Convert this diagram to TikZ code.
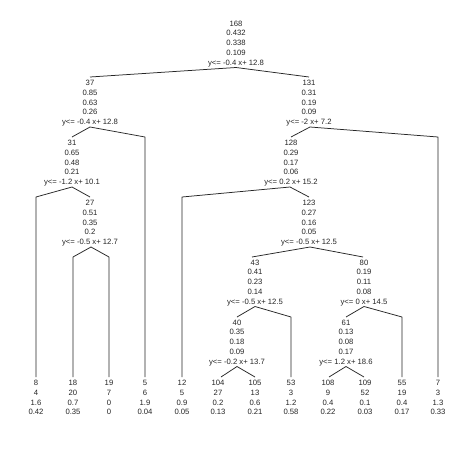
\documentclass[tikz,border=0pt]{standalone}
\usepackage{fontspec}
\setmainfont{Liberation Sans}
\begin{document}
\begin{tikzpicture}[x=1pt,y=-1pt,
  lbl/.style={font=\fontsize{7.7}{9.7}\selectfont, align=center, anchor=north, inner sep=0pt, text=black!85},
  edge/.style={draw=black!85, line width=0.75pt, line join=round}]
\useasboundingbox[fill=white] (0,0) rectangle (474,474);
% internal nodes
\node[lbl] (n168) at (236,20.7) {168\\0.432\\0.338\\0.109\\y<= -0.4 x+ 12.8};
\node[lbl] (n37) at (90,80.2) {37\\0.85\\0.63\\0.26\\y<= -0.4 x+ 12.8};
\node[lbl] (n131) at (309,80.2) {131\\0.31\\0.19\\0.09\\y<= -2 x+ 7.2};
\node[lbl] (n31) at (72,140.2) {31\\0.65\\0.48\\0.21\\y<= -1.2 x+ 10.1};
\node[lbl] (n128) at (291,140.2) {128\\0.29\\0.17\\0.06\\y<= 0.2 x+ 15.2};
\node[lbl] (n27) at (90,200.2) {27\\0.51\\0.35\\0.2\\y<= -0.5 x+ 12.7};
\node[lbl] (n123) at (309,200.2) {123\\0.27\\0.16\\0.05\\y<= -0.5 x+ 12.5};
\node[lbl] (n43) at (255,259.7) {43\\0.41\\0.23\\0.14\\y<= -0.5 x+ 12.5};
\node[lbl] (n80) at (364,259.7) {80\\0.19\\0.11\\0.08\\y<= 0 x+ 14.5};
\node[lbl] (n40) at (237,319.7) {40\\0.35\\0.18\\0.09\\y<= -0.2 x+ 13.7};
\node[lbl] (n61) at (346,319.7) {61\\0.13\\0.08\\0.17\\y<= 1.2 x+ 18.6};
% leaves
\node[lbl] (n8) at (36,380.2) {8\\4\\1.6\\0.42};
\node[lbl] (n18) at (73,380.2) {18\\20\\0.7\\0.35};
\node[lbl] (n19) at (109,380.2) {19\\7\\0\\0};
\node[lbl] (n5) at (145,380.2) {5\\6\\1.9\\0.04};
\node[lbl] (n12) at (182,380.2) {12\\5\\0.9\\0.05};
\node[lbl] (n104) at (218,380.2) {104\\27\\0.2\\0.13};
\node[lbl] (n105) at (255,380.2) {105\\13\\0.6\\0.21};
\node[lbl] (n53) at (291,380.2) {53\\3\\1.2\\0.58};
\node[lbl] (n108) at (328,380.2) {108\\9\\0.4\\0.22};
\node[lbl] (n109) at (365,380.2) {109\\52\\0.1\\0.03};
\node[lbl] (n55) at (402,380.2) {55\\19\\0.4\\0.17};
\node[lbl] (n7) at (438,380.2) {7\\3\\1.3\\0.33};
% apex coordinates (below split labels)
\coordinate (a168) at (236,67.5);
\coordinate (a37) at (90,127);
\coordinate (a131) at (310,127);
\coordinate (a31) at (72,187);
\coordinate (a128) at (290,187);
\coordinate (a27) at (91,247);
\coordinate (a123) at (310,247);
\coordinate (a43) at (255,306.5);
\coordinate (a80) at (364,306.5);
\coordinate (a40) at (237,366.5);
\coordinate (a61) at (346,366.5);
% child attach points
\coordinate (t37) at (90,77);
\coordinate (t131) at (309,77);
\coordinate (t31) at (72,137);
\coordinate (t128) at (291,137);
\coordinate (t27) at (90,197);
\coordinate (t123) at (309,197);
\coordinate (t43) at (252,257);
\coordinate (t80) at (363,257);
\coordinate (t40) at (237,317);
\coordinate (t61) at (346,317);
% leaf knees and ends
\coordinate (k5) at (145,137);  \coordinate (b5) at (145,377);
\coordinate (k7) at (438,137);  \coordinate (b7) at (438,377);
\coordinate (k8) at (36,197);   \coordinate (b8) at (36,377);
\coordinate (k12) at (182,197); \coordinate (b12) at (182,377);
\coordinate (k18) at (73,257);  \coordinate (b18) at (73,377);
\coordinate (k19) at (109,257); \coordinate (b19) at (109,377);
\coordinate (k53) at (291,317); \coordinate (b53) at (291,377);
\coordinate (k55) at (402,317); \coordinate (b55) at (402,377);
\coordinate (b104) at (221,377);
\coordinate (b105) at (255,377);
\coordinate (b108) at (329,377);
\coordinate (b109) at (364,377);
% edges
\draw[edge] (t37) -- (a168) -- (t131);
\draw[edge] (t31) -- (a37) -- (k5) -- (b5);
\draw[edge] (t128) -- (a131) -- (k7) -- (b7);
\draw[edge] (b8) -- (k8) -- (a31) -- (t27);
\draw[edge] (b12) -- (k12) -- (a128) -- (t123);
\draw[edge] (b18) -- (k18) -- (a27) -- (k19) -- (b19);
\draw[edge] (t43) -- (a123) -- (t80);
\draw[edge] (t40) -- (a43) -- (k53) -- (b53);
\draw[edge] (t61) -- (a80) -- (k55) -- (b55);
\draw[edge] (b104) -- (a40) -- (b105);
\draw[edge] (b108) -- (a61) -- (b109);
\end{tikzpicture}
\end{document}
